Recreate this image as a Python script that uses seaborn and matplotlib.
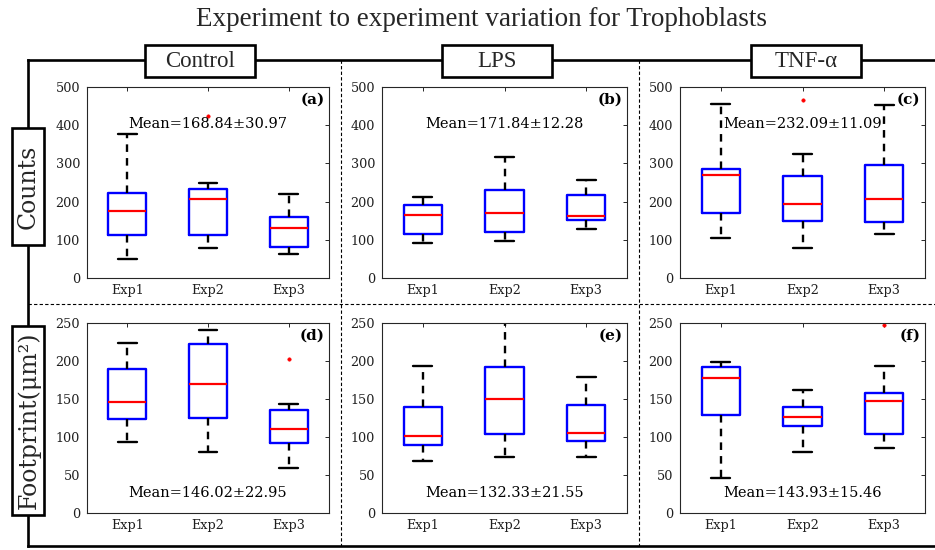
import numpy as np
import pandas as pd
import matplotlib
matplotlib.use("Agg")
import matplotlib.pyplot as plt
from matplotlib.lines import Line2D
from matplotlib.patches import Rectangle
import seaborn as sns

# ---------------- data ----------------
experiments = ["Exp1", "Exp2", "Exp3"]
conditions = ["Control", "LPS", "TNF-α"]
row_labels = ["Counts", "Footprint(μm²)"]
panel_letters = ["(a)", "(b)", "(c)", "(d)", "(e)", "(f)"]
mean_labels = ["Mean=168.84±30.97", "Mean=171.84±12.28", "Mean=232.09±11.09",
               "Mean=146.02±22.95", "Mean=132.33±21.55", "Mean=143.93±15.46"]

# five-number summaries per experiment: [whisker low, Q1, median, Q3, whisker high]
counts_control = [[49, 113, 176, 222, 376], [78, 113, 206, 233, 248], [62, 80, 130, 159, 220]]
counts_control_out = [[], [424], []]
counts_lps = [[91, 116, 166, 190, 211], [98, 120, 171, 231, 316], [129, 151, 161, 218, 257]]
counts_lps_out = [[], [], []]
counts_tnf = [[106, 170, 269, 285, 455], [78, 149, 193, 268, 324], [115, 146, 207, 296, 452]]
counts_tnf_out = [[], [465], []]

foot_control = [[94, 124, 146, 189, 224], [80, 125, 170, 223, 241], [59, 92, 111, 135, 144]]
foot_control_out = [[], [], [202]]
foot_lps = [[68, 89, 101, 140, 194], [74, 104, 150, 192, 258], [74, 95, 105, 142, 179]]
foot_lps_out = [[], [], []]
foot_tnf = [[46, 129, 178, 192, 199], [80, 115, 126, 140, 162], [86, 104, 148, 158, 193]]
foot_tnf_out = [[], [], [248]]

panels = [
    (counts_control, counts_control_out), (counts_lps, counts_lps_out), (counts_tnf, counts_tnf_out),
    (foot_control, foot_control_out), (foot_lps, foot_lps_out), (foot_tnf, foot_tnf_out),
]
ylims = [500, 250]
yticks = [np.arange(0, 501, 100), np.arange(0, 251, 50)]
mean_y = [403, 26.5]


def box_samples(stats, outliers):
    """Nine values whose quartiles / whiskers reproduce the read summary."""
    lo, q1, med, q3, hi = stats
    vals = [lo, lo, q1, q1, med, q3, q3, hi]
    vals += outliers[:1] if outliers else [hi]
    return vals


def panel_frame(summary, outs):
    rows = []
    for exp, st, ou in zip(experiments, summary, outs):
        for v in box_samples(st, ou):
            rows.append({"experiment": exp, "value": v})
    return pd.DataFrame(rows)


# ---------------- style ----------------
sns.set_theme(style="white")
plt.rcParams["font.family"] = ["DejaVu Serif", "DejaVu Sans"]
plt.rcParams["mathtext.fontset"] = "dejavuserif"

W, H = 935, 550
fig = plt.figure(figsize=(W / 100, H / 100), dpi=100)


def fx(x):
    return x / W


def fy(y):
    return 1 - y / H


col_px = [(87, 329), (382, 627), (680, 925)]
row_px = [(87, 278), (323, 513)]
axis_col = "#262626"

for i, (summary, outs) in enumerate(panels):
    r, c = divmod(i, 3)
    l, rr = col_px[c]
    t, b = row_px[r]
    ax = fig.add_axes([fx(l), fy(b), (rr - l) / W, (b - t) / H])
    df = panel_frame(summary, outs)
    sns.boxplot(
        data=df, x="experiment", y="value", order=experiments, ax=ax,
        width=0.47, fill=False, whis=1.5, linewidth=1.7,
        boxprops=dict(color="#0000ff", linewidth=1.7),
        medianprops=dict(color="#ff0000", linewidth=1.6),
        whiskerprops=dict(color="black", linewidth=1.7, linestyle=(0, (3.2, 2.6))),
        capprops=dict(color="black", linewidth=1.7),
        flierprops=dict(marker="o", markerfacecolor="#ff0000", markeredgecolor="#ff0000",
                        markersize=2.4, markeredgewidth=0.5),
    )
    ax.set_xlim(-0.5, 2.5)
    ax.set_ylim(0, ylims[r])
    ax.set_yticks(yticks[r])
    ax.set_xlabel("")
    ax.set_ylabel("")
    for sp in ax.spines.values():
        sp.set_visible(True)
        sp.set_color(axis_col)
        sp.set_linewidth(0.8)
    ax.tick_params(axis="both", direction="in", top=True, right=True, length=3,
                   width=0.7, color=axis_col, labelcolor="#1f1f1f", labelsize=9.2)
    ax.tick_params(axis="x", pad=4.5)
    ax.tick_params(axis="y", pad=5)
    ax.text(0.982, 0.935, panel_letters[i], transform=ax.transAxes, ha="right", va="center",
            fontsize=11, fontweight="bold", color="black")
    ax.text(1.0, mean_y[r], mean_labels[i], ha="center", va="center", fontsize=10.5,
            color="black")

# ---------------- figure decorations ----------------
title_font = ["Liberation Serif", "DejaVu Serif"]
fig.text(fx(482), fy(19), "Experiment to experiment variation for Trophoblasts",
         ha="center", va="center", fontsize=19.5, family=title_font)

thick = dict(color="black", linewidth=1.9, transform=fig.transFigure, zorder=3,
             solid_capstyle="projecting")
fig.add_artist(Line2D([fx(28), fx(935)], [fy(60), fy(60)], **thick))
fig.add_artist(Line2D([fx(28), fx(28)], [fy(60), fy(546)], **thick))
fig.add_artist(Line2D([fx(28), fx(935)], [fy(546), fy(546)], **thick))

dashed = dict(color="black", linewidth=0.8, linestyle=(0, (3, 2)),
              transform=fig.transFigure, zorder=2)
for xv in (341, 639):
    fig.add_artist(Line2D([fx(xv), fx(xv)], [fy(60), fy(546)], **dashed))
fig.add_artist(Line2D([fx(28), fx(935)], [fy(304), fy(304)], **dashed))

header_boxes = [(145, 255), (442, 552), (751, 861)]
for name, (x0, x1) in zip(conditions, header_boxes):
    fig.add_artist(Rectangle((fx(x0), fy(77)), (x1 - x0) / W, 32 / H,
                             transform=fig.transFigure, facecolor="white",
                             edgecolor="black", linewidth=1.9, zorder=5))
    fig.text(fx((x0 + x1) / 2), fy(61.5), name, ha="center", va="center",
             fontsize=16.5, family=title_font, zorder=6)

row_boxes = [(128, 245), (326, 515)]
for name, (y0, y1) in zip(row_labels, row_boxes):
    fig.add_artist(Rectangle((fx(12), fy(y1)), 32 / W, (y1 - y0) / H,
                             transform=fig.transFigure, facecolor="white",
                             edgecolor="black", linewidth=1.9, zorder=5))
    fig.text(fx(28.5), fy((y0 + y1) / 2), name, ha="center", va="center",
             rotation=90, fontsize=17, zorder=6)

fig.savefig("out.png", dpi=100)
